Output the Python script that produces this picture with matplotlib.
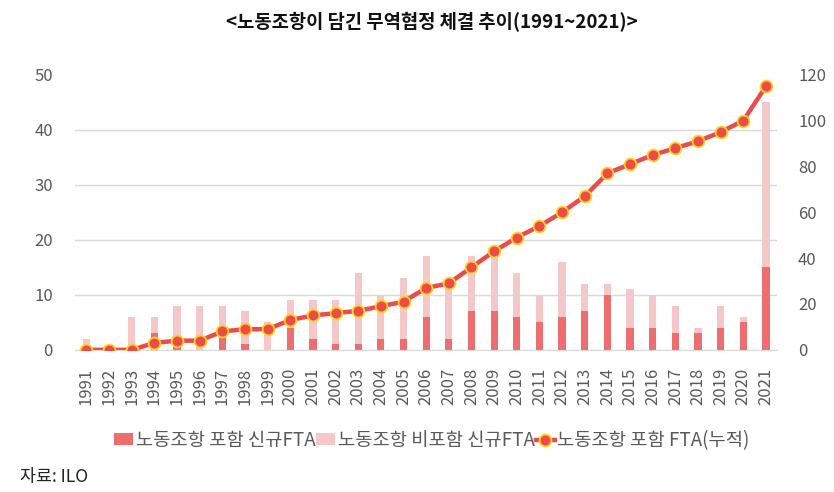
import numpy as np
import matplotlib
matplotlib.use('Agg')
from matplotlib import pyplot as plt

plt.rcParams['font.family'] = ['Noto Sans CJK KR', 'DejaVu Sans']

# 연도별 데이터
anios = [str(a) for a in range(1991, 2022)]
con_clausula = [0, 0, 0, 3, 1, 0, 4, 1, 0, 4, 2, 1, 1, 2, 2, 6, 2, 7, 7, 6,
                5, 6, 7, 10, 4, 4, 3, 3, 4, 5, 15]
total_nuevos = [2, 0, 6, 6, 8, 8, 8, 7, 5, 9, 9, 9, 14, 10, 13, 17, 12, 17, 18, 14,
                10, 16, 12, 12, 11, 10, 8, 4, 8, 6, 45]
acumulado = [0, 0, 0, 3, 4, 4, 8, 9, 9, 13, 15, 16, 17, 19, 21, 27, 29, 36, 43, 49,
             54, 60, 67, 77, 81, 85, 88, 91, 95, 100, 115]
sin_clausula = [t - c for t, c in zip(total_nuevos, con_clausula)]

color_oscuro = '#EE6D6F'
color_claro = '#F4C8C9'
color_linea = '#EC4A4B'
color_borde = '#FFD21F'
color_texto = '#595959'

fig = plt.figure(figsize=(8.34, 4.92), dpi=100)
ax = fig.add_axes([0.09, 0.289, 0.842, 0.559])
ax2 = ax.twinx()

x = np.arange(len(anios))
ax.bar(x, con_clausula, width=0.32, color=color_oscuro, label='노동조항 포함 신규FTA', zorder=2)
ax.bar(x, sin_clausula, width=0.32, bottom=con_clausula, color=color_claro,
       label='노동조항 비포함 신규FTA', zorder=2)
ax2.plot(x, acumulado, color=color_linea, linewidth=3.2, marker='o', markersize=8.5,
         markerfacecolor=color_linea, markeredgecolor=color_borde, markeredgewidth=1.3,
         label='노동조항 포함 FTA(누적)', zorder=3)

ax.set_xlim(-0.5, 30.5)
ax.set_ylim(0, 50)
ax2.set_ylim(0, 120)
ax.set_yticks(range(0, 51, 10))
ax2.set_yticks(range(0, 121, 20))
ax.set_xticks(x)
ax.set_xticklabels(anios, rotation=90)

ax.grid(axis='y', color='#D9D9D9', linewidth=1, zorder=0)
ax.get_ygridlines()[-1].set_visible(False)
ax.set_axisbelow(True)

for a in (ax, ax2):
    for lado in ['top', 'right', 'left', 'bottom']:
        a.spines[lado].set_visible(False)
    a.tick_params(length=0, labelsize=12, colors=color_texto)
    for t in a.get_xticklabels() + a.get_yticklabels():
        t.set_fontweight('light')
ax.spines['bottom'].set_visible(True)
ax.spines['bottom'].set_color('#D9D9D9')
ax.tick_params(axis='y', pad=16)
ax2.tick_params(axis='y', pad=15)
ax.tick_params(axis='x', pad=13)

fig.text(0.518, 0.955, '<노동조항이 담긴 무역협정 체결 추이(1991~2021)>', ha='center', va='center',
         fontsize=13.5, fontweight='bold', color='#111111')

h1, l1 = ax.get_legend_handles_labels()
h2, l2 = ax2.get_legend_handles_labels()
leg = fig.legend(h1 + h2, l1 + l2, loc='center', bbox_to_anchor=(0.518, 0.105), ncol=3,
                 frameon=False, fontsize=13.5, handlelength=1.0, handleheight=0.6,
                 handletextpad=0.15, columnspacing=0.05, labelcolor=color_texto)
for t in leg.get_texts():
    t.set_fontweight('light')

fig.text(0.024, 0.03, '자료: ILO', ha='left', va='center', fontsize=12.5, color='#222222')

fig.savefig('out.png', dpi=100)
